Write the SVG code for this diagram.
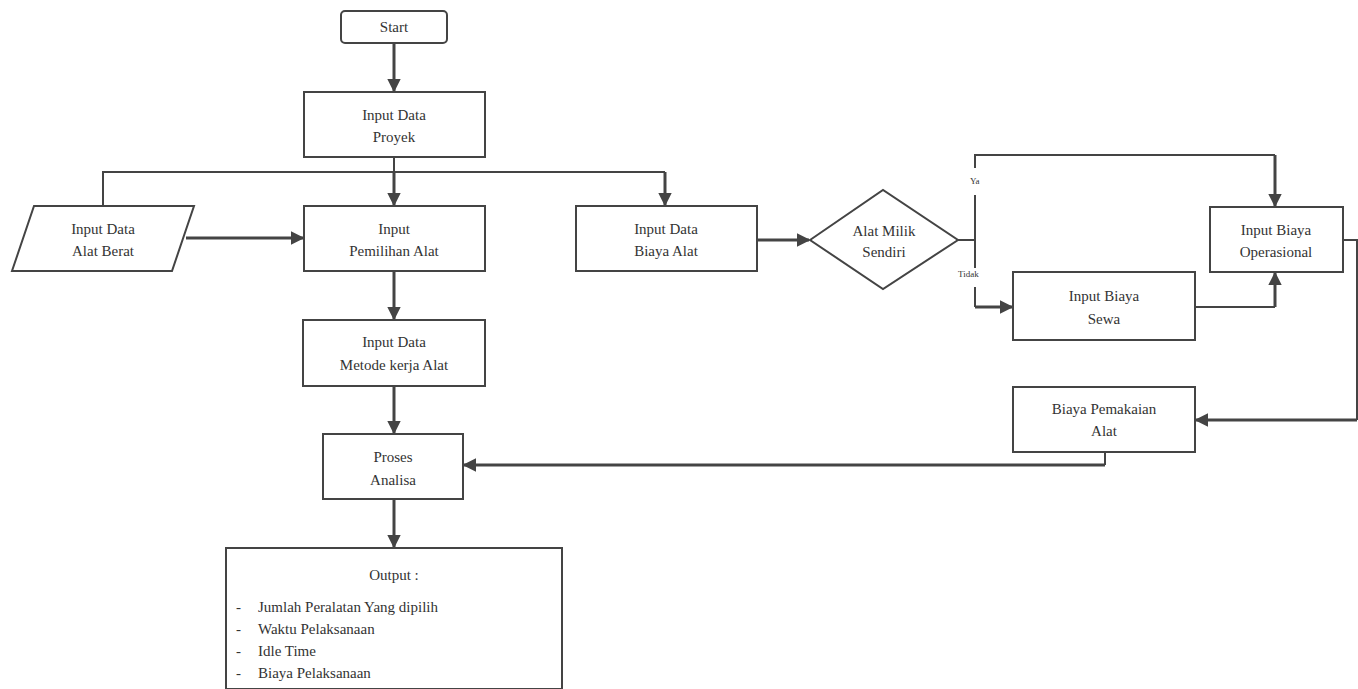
<svg xmlns="http://www.w3.org/2000/svg" width="1358" height="689" viewBox="0 0 1358 689">
<style>
.box{fill:#fff;stroke:#444;stroke-width:2}
.t{font-family:"Liberation Serif",serif;font-size:15px;fill:#333;text-anchor:middle}
.tl{font-family:"Liberation Serif",serif;font-size:15px;fill:#333}
.s{font-family:"Liberation Serif",serif;font-size:9px;fill:#333}
.c{fill:none;stroke:#444;stroke-width:2}
.ct{fill:none;stroke:#444;stroke-width:3}
</style>
<defs>
<marker id="a2" viewBox="0 0 10 10" refX="9" refY="5" markerWidth="4.5" markerHeight="4.5" orient="auto" markerUnits="strokeWidth">
<path d="M0,0 L10,5 L0,10 z" fill="#444"/>
</marker>
</defs>
<rect width="1358" height="689" fill="#fff"/>
<g id="connectors">
<path class="ct" d="M394,43 V91" marker-end="url(#a2)"/>
<path class="c" d="M394,157 V172 M103,206 V172 H665"/>
<path class="ct" d="M394,172 V205" marker-end="url(#a2)"/>
<path class="ct" d="M665,172 V205" marker-end="url(#a2)"/>
<path class="ct" d="M186,238 H303" marker-end="url(#a2)"/>
<path class="ct" d="M757,240 H809" marker-end="url(#a2)"/>
<path class="c" d="M958,240 H975 M975,168 V155 H1275 M975,195 V268 M975,287 V307"/>
<path class="ct" d="M1275,155 V206" marker-end="url(#a2)"/>
<path class="ct" d="M975,307 H1012" marker-end="url(#a2)"/>
<path class="c" d="M1195,307 H1275"/>
<path class="ct" d="M1275,307 V273" marker-end="url(#a2)"/>
<path class="c" d="M1343,240 H1357 V420"/>
<path class="ct" d="M1357,420 H1196" marker-end="url(#a2)"/>
<path class="c" d="M1105,452 V465"/>
<path class="ct" d="M1105,465 H464" marker-end="url(#a2)"/>
<path class="ct" d="M394,271 V319" marker-end="url(#a2)"/>
<path class="ct" d="M394,386 V433" marker-end="url(#a2)"/>
<path class="ct" d="M394,499 V547" marker-end="url(#a2)"/>
<text class="s" x="970" y="184">Ya</text>
<text class="s" x="958" y="277">Tidak</text>
</g>
<g id="start">
<rect class="box" x="341" y="11" width="106" height="32" rx="4"/>
<text class="t" x="394" y="32">Start</text>
</g>
<g id="proyek">
<rect class="box" x="304" y="92" width="181" height="65"/>
<text class="t" x="394" y="120">Input Data</text>
<text class="t" x="394" y="142">Proyek</text>
</g>
<g id="alatberat">
<polygon class="box" points="34,206 194,206 172,271 12,271"/>
<text class="t" x="103" y="234">Input Data</text>
<text class="t" x="103" y="256">Alat Berat</text>
</g>
<g id="pemilihan">
<rect class="box" x="304" y="206" width="181" height="65"/>
<text class="t" x="394" y="234">Input</text>
<text class="t" x="394" y="256">Pemilihan Alat</text>
</g>
<g id="biayaalat">
<rect class="box" x="576" y="206" width="181" height="65"/>
<text class="t" x="666" y="234">Input Data</text>
<text class="t" x="666" y="256">Biaya Alat</text>
</g>
<g id="milik">
<polygon class="box" points="810,240 883,190 958,240 883,289"/>
<text class="t" x="884" y="236">Alat Milik</text>
<text class="t" x="884" y="257">Sendiri</text>
</g>
<g id="operasional">
<rect class="box" x="1210" y="207" width="133" height="65"/>
<text class="t" x="1276" y="235">Input Biaya</text>
<text class="t" x="1276" y="257">Operasional</text>
</g>
<g id="sewa">
<rect class="box" x="1013" y="272" width="182" height="68"/>
<text class="t" x="1104" y="301">Input Biaya</text>
<text class="t" x="1104" y="324">Sewa</text>
</g>
<g id="pemakaian">
<rect class="box" x="1013" y="387" width="182" height="65"/>
<text class="t" x="1104" y="414">Biaya Pemakaian</text>
<text class="t" x="1104" y="436">Alat</text>
</g>
<g id="metode">
<rect class="box" x="303" y="320" width="182" height="66"/>
<text class="t" x="394" y="347">Input Data</text>
<text class="t" x="394" y="370">Metode kerja Alat</text>
</g>
<g id="analisa">
<rect class="box" x="323" y="434" width="140" height="65"/>
<text class="t" x="393" y="462">Proses</text>
<text class="t" x="393" y="485">Analisa</text>
</g>
<g id="output">
<rect class="box" x="226" y="548" width="336" height="141"/>
<text class="t" x="394" y="580">Output :</text>
<text class="tl" x="236" y="612">-</text>
<text class="tl" x="258" y="612">Jumlah Peralatan Yang dipilih</text>
<text class="tl" x="236" y="634">-</text>
<text class="tl" x="258" y="634">Waktu Pelaksanaan</text>
<text class="tl" x="236" y="656">-</text>
<text class="tl" x="258" y="656">Idle Time</text>
<text class="tl" x="236" y="678">-</text>
<text class="tl" x="258" y="678">Biaya Pelaksanaan</text>
</g>
</svg>
